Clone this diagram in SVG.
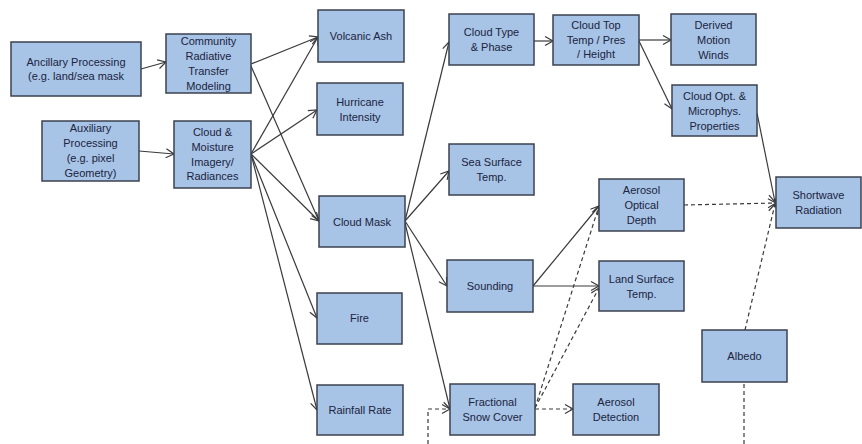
<svg xmlns="http://www.w3.org/2000/svg" width="862" height="444" viewBox="0 0 862 444">
<defs>
<marker id="arr" markerUnits="userSpaceOnUse" markerWidth="12" markerHeight="12" refX="9" refY="5" orient="auto" viewBox="0 0 12 10">
<path d="M1,0.5 L9,5 L1,9.5" fill="none" stroke="#3a3a3a" stroke-width="1.2"/>
</marker>
</defs>
<style>
.box{fill:#a7c3e6;stroke:#3c4250;stroke-width:1.5}
.t{font-family:"Liberation Sans",Arial,sans-serif;font-size:11px;fill:#1b2440;text-anchor:middle}
.c{stroke:#3a3a3a;stroke-width:1.2;fill:none;marker-end:url(#arr)}
.d{stroke:#3a3a3a;stroke-width:1.2;fill:none;stroke-dasharray:4,3}
.da{stroke:#3a3a3a;stroke-width:1.2;fill:none;stroke-dasharray:4,3;marker-end:url(#arr)}
</style>
<rect width="862" height="444" fill="#ffffff"/>
<g id="connectors">
<line class="c" x1="141" y1="69" x2="166" y2="62"/>
<line class="c" x1="139" y1="151" x2="174" y2="154"/>
<line class="c" x1="251" y1="64" x2="318" y2="37"/>
<line class="c" x1="251" y1="66" x2="319" y2="221"/>
<line class="c" x1="251" y1="154" x2="318" y2="37"/>
<line class="c" x1="251" y1="154" x2="317" y2="110"/>
<line class="c" x1="251" y1="154" x2="319" y2="221"/>
<line class="c" x1="251" y1="154" x2="317" y2="318"/>
<line class="c" x1="251" y1="154" x2="317" y2="410"/>
<line class="c" x1="405" y1="221" x2="449" y2="42"/>
<line class="c" x1="405" y1="221" x2="449" y2="171"/>
<line class="c" x1="405" y1="221" x2="447" y2="286"/>
<line class="c" x1="405" y1="223" x2="450" y2="409"/>
<line class="c" x1="534" y1="41" x2="553" y2="41"/>
<line class="c" x1="639" y1="40" x2="671" y2="40"/>
<line class="c" x1="639" y1="41" x2="672" y2="109"/>
<line class="c" x1="757" y1="113" x2="775" y2="202"/>
<line class="c" x1="533" y1="286" x2="599" y2="206"/>
<line class="c" x1="533" y1="286" x2="599" y2="286"/>
<line class="da" x1="684" y1="205" x2="776" y2="203"/>
<line class="da" x1="745" y1="330" x2="775" y2="204"/>
<line class="d" x1="744" y1="444" x2="744" y2="382"/>
<line class="da" x1="535" y1="408" x2="599" y2="206"/>
<line class="da" x1="535" y1="408" x2="599" y2="288"/>
<line class="da" x1="535" y1="409" x2="573" y2="409"/>
<polyline class="da" points="428,444 428,409 450,409"/>
</g>
<g id="ancillary"><rect class="box" x="11" y="42" width="130" height="54"/><text class="t" x="76" y="66">Ancillary Processing</text><text class="t" x="76" y="80">(e.g. land/sea mask</text></g>
<g id="crtm"><rect class="box" x="166" y="34" width="85" height="59"/><text class="t" x="208.5" y="45">Community</text><text class="t" x="208.5" y="60">Radiative</text><text class="t" x="208.5" y="75">Transfer</text><text class="t" x="208.5" y="90">Modeling</text></g>
<g id="auxiliary"><rect class="box" x="42" y="121" width="97" height="60"/><text class="t" x="90.5" y="132">Auxiliary</text><text class="t" x="90.5" y="147">Processing</text><text class="t" x="90.5" y="162">(e.g. pixel</text><text class="t" x="90.5" y="177">Geometry)</text></g>
<g id="cmi"><rect class="box" x="174" y="121" width="77" height="67"/><text class="t" x="212.5" y="136">Cloud &amp;</text><text class="t" x="212.5" y="151">Moisture</text><text class="t" x="212.5" y="166">Imagery/</text><text class="t" x="212.5" y="180">Radiances</text></g>
<g id="volcanic"><rect class="box" x="318" y="10" width="86" height="52"/><text class="t" x="361" y="40">Volcanic Ash</text></g>
<g id="hurricane"><rect class="box" x="317" y="83" width="86" height="52"/><text class="t" x="360" y="106">Hurricane</text><text class="t" x="360" y="121">Intensity</text></g>
<g id="cloudmask"><rect class="box" x="319" y="196" width="86" height="51"/><text class="t" x="362" y="226">Cloud Mask</text></g>
<g id="fire"><rect class="box" x="317" y="293" width="85" height="51"/><text class="t" x="359.5" y="322">Fire</text></g>
<g id="rainfall"><rect class="box" x="317" y="385" width="86" height="50"/><text class="t" x="360" y="414">Rainfall Rate</text></g>
<g id="cloudtype"><rect class="box" x="449" y="14" width="85" height="51"/><text class="t" x="491.5" y="36">Cloud Type</text><text class="t" x="491.5" y="51">&amp; Phase</text></g>
<g id="sst"><rect class="box" x="449" y="144" width="85" height="51"/><text class="t" x="491.5" y="166">Sea Surface</text><text class="t" x="491.5" y="181">Temp.</text></g>
<g id="sounding"><rect class="box" x="447" y="260" width="86" height="52"/><text class="t" x="490" y="290">Sounding</text></g>
<g id="snow"><rect class="box" x="450" y="384" width="85" height="51"/><text class="t" x="492.5" y="406">Fractional</text><text class="t" x="492.5" y="421">Snow Cover</text></g>
<g id="cloudtop"><rect class="box" x="553" y="15" width="86" height="50"/><text class="t" x="596" y="29">Cloud Top</text><text class="t" x="596" y="44">Temp / Pres</text><text class="t" x="596" y="58">/ Height</text></g>
<g id="winds"><rect class="box" x="671" y="14" width="85" height="51"/><text class="t" x="713.5" y="29">Derived</text><text class="t" x="713.5" y="44">Motion</text><text class="t" x="713.5" y="59">Winds</text></g>
<g id="cloudopt"><rect class="box" x="672" y="85" width="85" height="51"/><text class="t" x="714.5" y="100">Cloud Opt. &amp;</text><text class="t" x="714.5" y="115">Microphys.</text><text class="t" x="714.5" y="130">Properties</text></g>
<g id="aod"><rect class="box" x="599" y="179" width="85" height="52"/><text class="t" x="641.5" y="194">Aerosol</text><text class="t" x="641.5" y="209">Optical</text><text class="t" x="641.5" y="224">Depth</text></g>
<g id="lst"><rect class="box" x="599" y="261" width="85" height="50"/><text class="t" x="641.5" y="283">Land Surface</text><text class="t" x="641.5" y="298">Temp.</text></g>
<g id="aerosoldet"><rect class="box" x="573" y="384" width="86" height="51"/><text class="t" x="616" y="406">Aerosol</text><text class="t" x="616" y="421">Detection</text></g>
<g id="albedo"><rect class="box" x="702" y="330" width="85" height="52"/><text class="t" x="744.5" y="360">Albedo</text></g>
<g id="shortwave"><rect class="box" x="776" y="177" width="85" height="51"/><text class="t" x="818.5" y="199">Shortwave</text><text class="t" x="818.5" y="214">Radiation</text></g>
</svg>
